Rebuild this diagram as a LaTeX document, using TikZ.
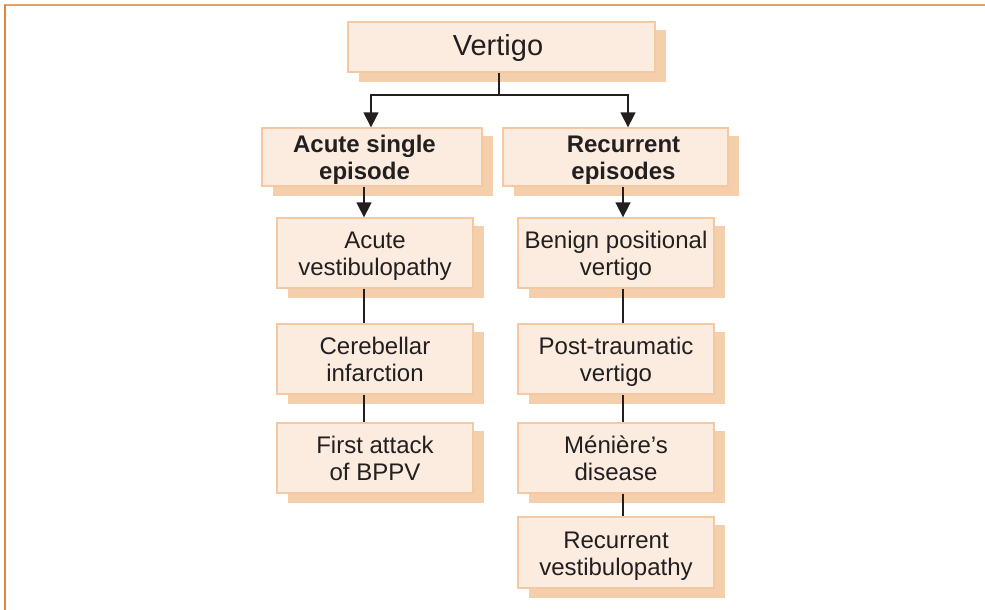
\documentclass[tikz,border=0pt]{standalone}
\usepackage{fontspec}
\setmainfont{Liberation Sans}
\usetikzlibrary{arrows.meta,calc,backgrounds}
\definecolor{boxfill}{HTML}{FBECDF}
\definecolor{boxline}{HTML}{F4C8A0}
\definecolor{shadowc}{HTML}{F5CFAB}
\definecolor{frametop}{HTML}{E8A060}
\definecolor{frameleft}{HTML}{E8843A}
\definecolor{ink}{HTML}{231F20}
\newcommand\tx[2][-4pt]{\raisebox{#1}[\height][\depth]{\begin{tabular}{@{}c@{}}#2\end{tabular}}}
\tikzset{
  fbox/.style={draw=boxline, fill=boxfill, line width=1.3pt, align=center,
    text=ink, inner sep=0pt, font=\fontsize{24}{27}\selectfont},
  sbox/.style={fbox, minimum width=196pt, minimum height=70pt},
  hdr/.style={fbox, font=\fontsize{24}{27}\selectfont\bfseries, minimum height=58pt},
  arr/.style={draw=ink, line width=1.5pt, -{Triangle[length=15pt,width=15pt]}},
  ln/.style={draw=ink, line width=1.5pt},
}
\newcommand\shadowof[1]{%
  \fill[shadowc] ($(#1.north west)+(12,9)$) rectangle ($(#1.south east)+(10,9)$);}
\begin{document}
\begin{tikzpicture}[x=1pt,y=-1pt]
\useasboundingbox (0,0) rectangle (985,610);
% frame
\draw[frametop, line width=2pt] (4,5) -- (985,5);
\draw[frameleft, line width=2pt] (5,5) -- (5,610);
% boxes
\node[fbox, minimum width=307pt, minimum height=50pt, font=\fontsize{29}{32}\selectfont] (vert) at (501.5,47) {\hspace*{-7pt}\tx[-2pt]{Vertigo}};
\node[hdr, minimum width=220pt] (ase) at (372,157) {\hspace*{-15pt}\tx{Acute single\\episode}};
\node[hdr, minimum width=225pt] (rep) at (615.5,157) {\hspace*{16pt}\tx{Recurrent\\episodes}};
\node[sbox] (av) at (375,253) {\tx{Acute\\vestibulopathy}};
\node[sbox] (ci) at (375,359) {\tx{Cerebellar\\infarction}};
\node[sbox] (fa) at (375,458) {\tx{First attack\\of BPPV}};
\node[sbox] (bpv) at (616,253) {\tx{Benign positional\\vertigo}};
\node[sbox] (ptv) at (616,359) {\tx{Post-traumatic\\vertigo}};
\node[sbox] (md) at (616,458) {\tx{Ménière’s\\disease}};
\node[sbox, minimum height=71pt] (rv) at (616,552.5) {\tx{Recurrent\\vestibulopathy}};
\begin{pgfonlayer}{background}
\foreach \n in {vert,ase,rep,av,ci,fa,bpv,ptv,md,rv}{\shadowof{\n}}
\end{pgfonlayer}
% connectors
\coordinate (j) at (499,95);
\coordinate (cl) at (364,0);
\coordinate (cr) at (623,0);
\coordinate (rt) at (628,0);
\coordinate (lt) at (371,0);
\draw[ln] (vert.south -| j) -- (j);
\draw[arr] (j) -| (ase.north -| lt);
\draw[arr] (j) -| (rep.north -| rt);
\draw[arr] (ase.south -| cl) -- (av.north -| cl);
\draw[arr] (rep.south -| cr) -- (bpv.north -| cr);
\draw[ln] (av.south -| cl) -- (ci.north -| cl);
\draw[ln] (ci.south -| cl) -- (fa.north -| cl);
\draw[ln] (bpv.south -| cr) -- (ptv.north -| cr);
\draw[ln] (ptv.south -| cr) -- (md.north -| cr);
\draw[ln] (md.south -| cr) -- (rv.north -| cr);
\end{tikzpicture}
\end{document}
